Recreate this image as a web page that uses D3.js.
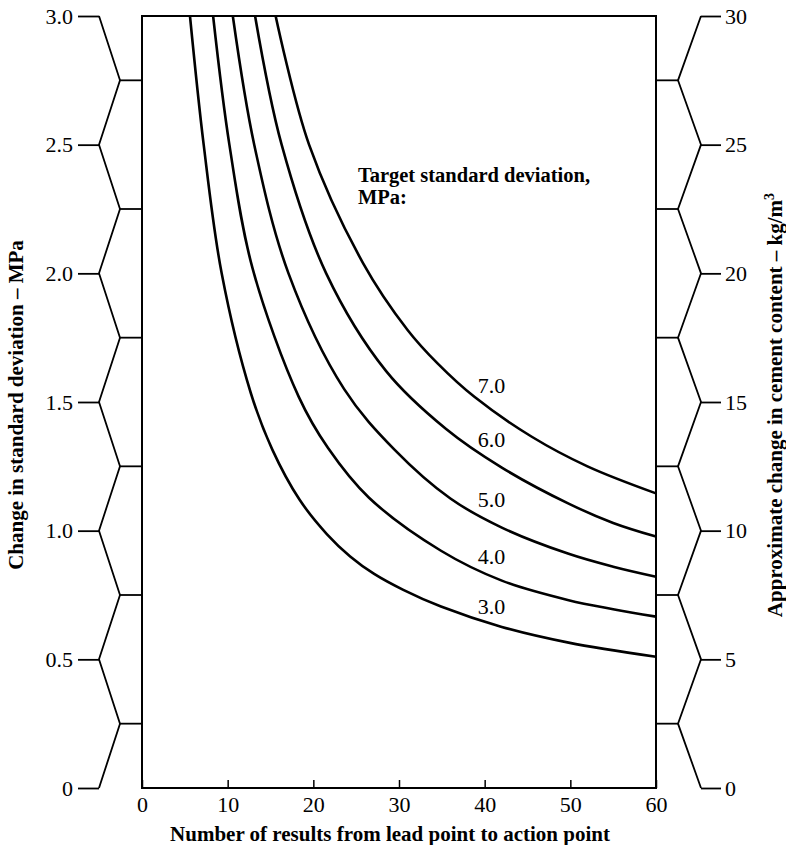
<!DOCTYPE html>
<html><head><meta charset="utf-8">
<script src="https://cdn.jsdelivr.net/npm/d3@7"></script>
<style>
html,body{margin:0;padding:0;background:#fff;}
svg{display:block;}
text{font-family:"Liberation Serif","Times New Roman",serif;fill:#000;}
</style></head>
<body>
<svg id="chart" width="786" height="845"></svg>
<script>
// ---- data ----
const xTicks = [0, 10, 20, 30, 40, 50, 60];
const leftTicks = [0, 0.5, 1.0, 1.5, 2.0, 2.5, 3.0];
const rightTicks = [0, 5, 10, 15, 20, 25, 30];
const seriesNames = ["3.0", "4.0", "5.0", "6.0", "7.0"];
// points: [number of results, change in SD (MPa)]
const sd30 = [[5.6,3.0],[7.2,2.5],[9.3,2.0],[12.7,1.535],[15.2,1.316],[18.4,1.12],[21.6,0.986],[24.3,0.9],[27.1,0.832],[30.5,0.77],[34.9,0.705],[42,0.626],[49.8,0.565],[60,0.51]];
const sd40 = [[8.3,3.0],[10.2,2.5],[12.9,2.02],[18.3,1.52],[21.7,1.322],[26.5,1.128],[34.9,0.922],[42,0.806],[49.8,0.73],[55,0.695],[60,0.666]];
const sd50 = [[10.6,3.0],[13.1,2.5],[17.1,2.0],[23.6,1.55],[29.5,1.314],[36,1.125],[42,1.012],[49.8,0.91],[55,0.86],[60,0.821]];
const sd60 = [[13.2,3.0],[16.3,2.5],[21.5,2.0],[28.5,1.62],[35.5,1.395],[42,1.245],[49.8,1.105],[55,1.03],[60,0.977]];
const sd70 = [[15.6,3.0],[19.5,2.5],[25.8,2.04],[31,1.78],[34.5,1.65],[38.8,1.52],[45.5,1.365],[52,1.25],[60,1.145]];
const seriesData = [sd30, sd40, sd50, sd60, sd70];
// label anchors (data coordinates)
const labelN = [39.2, 39.2, 39.2, 39.2, 39.2];
const labelV = [0.676, 0.871, 1.092, 1.325, 1.535];

// ---- layout ----
const svg = d3.select("#chart");
const L = 142, R = 656, T = 16, B = 788;
const x = d3.scaleLinear().domain([0, 60]).range([L, R]);
const y = d3.scaleLinear().domain([0, 3]).range([B, T]);
const y2 = d3.scaleLinear().domain([0, 30]).range([B, T]);
const FS = 22;
const FF = '"Liberation Serif","Times New Roman",serif';

// plot frame
svg.append("rect").attr("x", L).attr("y", T).attr("width", R - L).attr("height", B - T)
  .attr("fill", "none").attr("stroke", "#000").attr("stroke-width", 2);

// x axis with inner ticks
const gx = svg.append("g").attr("transform", `translate(0,${B})`)
  .call(d3.axisBottom(x).tickValues(xTicks).tickSize(-8).tickPadding(8).tickFormat(d3.format("d")));
gx.select(".domain").remove();
gx.selectAll("line").attr("stroke", "#000").attr("stroke-width", 1.5);
gx.selectAll("text").attr("font-size", FS).attr("font-family", FF);

// left zig-zag axis
const lMajor = L - 43, lMinor = L - 22;
const minorLeft = d3.range(0.25, 3, 0.5);
const zigLeft = d3.merge(leftTicks.map((v, i) => i < leftTicks.length - 1 ? [[lMajor, y(v)], [lMinor, y(v + 0.25)]] : [[lMajor, y(v)]]));
svg.append("path").attr("d", d3.line()(zigLeft)).attr("fill", "none").attr("stroke", "#000").attr("stroke-width", 1.8);
svg.selectAll(".lminor").data(minorLeft).join("line")
  .attr("x1", lMinor).attr("x2", L).attr("y1", d => y(d)).attr("y2", d => y(d))
  .attr("stroke", "#000").attr("stroke-width", 1.8);
const gl = svg.append("g").attr("transform", `translate(${lMajor},0)`)
  .call(d3.axisLeft(y).tickValues(leftTicks).tickSize(21).tickPadding(5)
    .tickFormat(d => d === 0 ? "0" : d3.format(".1f")(d)));
gl.select(".domain").remove();
gl.selectAll("line").attr("stroke", "#000").attr("stroke-width", 1.8);
gl.selectAll("text").attr("font-size", FS).attr("font-family", FF);

// right zig-zag axis
const rMajor = R + 45, rMinor = R + 22;
const minorRight = d3.range(2.5, 30, 5);
const zigRight = d3.merge(rightTicks.map((v, i) => i < rightTicks.length - 1 ? [[rMajor, y2(v)], [rMinor, y2(v + 2.5)]] : [[rMajor, y2(v)]]));
svg.append("path").attr("d", d3.line()(zigRight)).attr("fill", "none").attr("stroke", "#000").attr("stroke-width", 1.8);
svg.selectAll(".rminor").data(minorRight).join("line")
  .attr("x1", R).attr("x2", rMinor).attr("y1", d => y2(d)).attr("y2", d => y2(d))
  .attr("stroke", "#000").attr("stroke-width", 1.8);
const gr = svg.append("g").attr("transform", `translate(${rMajor},0)`)
  .call(d3.axisRight(y2).tickValues(rightTicks).tickSize(20).tickPadding(4).tickFormat(d3.format("d")));
gr.select(".domain").remove();
gr.selectAll("line").attr("stroke", "#000").attr("stroke-width", 1.8);
gr.selectAll("text").attr("font-size", FS).attr("font-family", FF);

// curves
const line = d3.line().x(d => x(d[0])).y(d => y(d[1])).curve(d3.curveCatmullRom.alpha(0.5));
svg.append("g").selectAll("path").data(seriesData).join("path")
  .attr("d", line).attr("fill", "none").attr("stroke", "#000").attr("stroke-width", 2.6);

// curve labels
svg.append("g").selectAll("text").data(seriesNames).join("text")
  .attr("x", (d, i) => x(labelN[i])).attr("y", (d, i) => y(labelV[i]))
  .attr("font-size", FS).text(d => d);

// legend title
const ann = svg.append("text").attr("font-size", 20.5).attr("font-weight", "bold")
  .attr("x", x(25.2)).attr("y", y(2.355));
ann.append("tspan").attr("x", x(25.2)).text("Target standard deviation,");
ann.append("tspan").attr("x", x(25.2)).attr("dy", 22).text("MPa:");

// axis titles
svg.append("text").attr("x", 390).attr("y", 841).attr("text-anchor", "middle")
  .attr("font-size", 21).attr("font-weight", "bold")
  .text("Number of results from lead point to action point");
svg.append("text").attr("transform", "translate(23,405) rotate(-90)").attr("text-anchor", "middle")
  .attr("font-size", 21).attr("font-weight", "bold")
  .text("Change in standard deviation \u2013 MPa");
const rt = svg.append("text").attr("transform", "translate(782,405) rotate(-90)").attr("text-anchor", "middle")
  .attr("font-size", 21).attr("font-weight", "bold");
rt.append("tspan").text("Approximate change in cement content \u2013 kg/m");
rt.append("tspan").attr("dy", -8).attr("font-size", 14).text("3");
</script>
</body></html>
